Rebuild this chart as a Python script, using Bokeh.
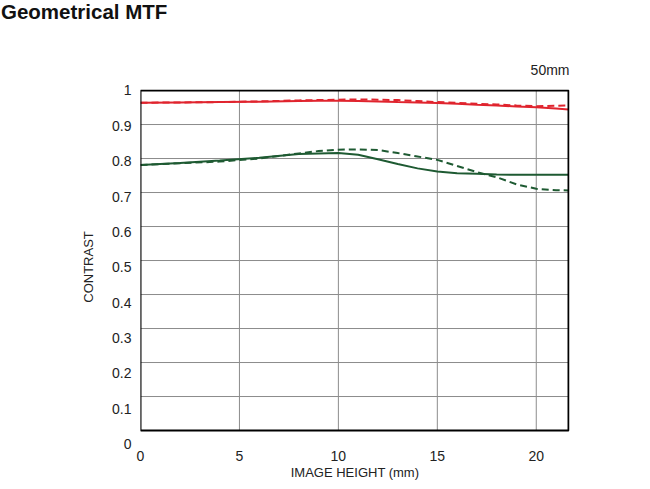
from bokeh.plotting import figure
from bokeh.models import Range1d, FixedTicker, LinearAxis, Div, BoxAnnotation
from bokeh.layouts import column
from bokeh.embed import file_html
from bokeh.resources import INLINE

# ---- data ----
image_height = [0, 2, 4, 6, 8, 9, 10, 11, 12, 13, 14, 15, 16, 17, 18, 19, 20, 21, 21.63]
red_solid = [0.964, 0.965, 0.966, 0.967, 0.969, 0.970, 0.970, 0.969, 0.968, 0.966, 0.965,
             0.963, 0.961, 0.958, 0.956, 0.953, 0.951, 0.947, 0.944]
red_dashed = [0.964, 0.965, 0.966, 0.968, 0.971, 0.972, 0.973, 0.974, 0.973, 0.972, 0.969,
              0.966, 0.964, 0.961, 0.959, 0.956, 0.954, 0.955, 0.956]
green_solid = [0.781, 0.787, 0.794, 0.802, 0.813, 0.815, 0.816, 0.811, 0.798, 0.784, 0.771,
               0.762, 0.757, 0.755, 0.753, 0.752, 0.752, 0.752, 0.752]
green_dashed = [0.781, 0.786, 0.791, 0.800, 0.815, 0.822, 0.826, 0.827, 0.825, 0.816, 0.806,
                0.796, 0.778, 0.760, 0.745, 0.724, 0.711, 0.707, 0.706]
x_ticks = [0, 5, 10, 15, 20]
y_ticks = [0, 0.1, 0.2, 0.3, 0.4, 0.5, 0.6, 0.7, 0.8, 0.9, 1.0]
x_max = 21.63
title_text = "Geometrical MTF"
focal_text = "50mm"
x_title = "IMAGE HEIGHT (mm)"
y_title = "CONTRAST"

FONT = "Liberation Sans"
RED = "#e0242e"
GREEN = "#1e5a32"
TXT = "#222222"

p = figure(width=634, height=443, output_backend="svg", toolbar_location=None,
           x_range=Range1d(0, x_max + 0.05), y_range=Range1d(-0.0411, 1.003),
           min_border_left=140, min_border_right=65, min_border_top=49,
           min_border_bottom=39, y_axis_location=None)
p.extra_y_ranges = {"lab": Range1d(-0.0017, 1.0028)}
p.outline_line_color = None
p.xgrid.visible = False
p.ygrid.visible = False

# x axis (labels only)
p.xaxis.ticker = FixedTicker(ticks=x_ticks)
p.xaxis.axis_line_color = None
p.xaxis.major_tick_line_color = None
p.xaxis.minor_tick_line_color = None
p.xaxis.major_tick_out = 0
p.xaxis.major_tick_in = 0
p.xaxis.major_label_standoff = 6
p.xaxis.major_label_text_font = FONT
p.xaxis.major_label_text_font_size = "14px"
p.xaxis.major_label_text_color = TXT
p.xaxis.axis_label = x_title
p.xaxis.axis_label_standoff = 1
p.xaxis.axis_label_text_font = FONT
p.xaxis.axis_label_text_font_size = "13px"
p.xaxis.axis_label_text_font_style = "normal"
p.xaxis.axis_label_text_color = TXT

# y axis (labels only), on its own label scale
yax = LinearAxis(y_range_name="lab", ticker=FixedTicker(ticks=y_ticks),
                 axis_line_color=None, major_tick_line_color=None,
                 minor_tick_line_color=None, major_tick_out=0, major_tick_in=0,
                 major_label_standoff=9, major_label_text_font=FONT,
                 major_label_text_font_size="14px", major_label_text_color=TXT,
                 axis_label=y_title, axis_label_standoff=13,
                 axis_label_text_font=FONT, axis_label_text_font_size="13px",
                 axis_label_text_font_style="normal", axis_label_text_color=TXT)
p.add_layout(yax, "left")

# grid lines from the tick arrays
p.segment(x0=x_ticks, x1=x_ticks, y0=[0] * len(x_ticks), y1=[1] * len(x_ticks),
          line_color="#8c8c8c", line_width=1)
p.segment(x0=[0] * len(y_ticks), x1=[x_max] * len(y_ticks), y0=y_ticks, y1=y_ticks,
          line_color="#8c8c8c", line_width=1)

p.line(image_height, red_solid, line_color=RED, line_width=2)
p.line(image_height, red_dashed, line_color=RED, line_width=2, line_dash="7 4")
p.line(image_height, green_solid, line_color=GREEN, line_width=2)
p.line(image_height, green_dashed, line_color=GREEN, line_width=2, line_dash="7 4")

p.add_layout(BoxAnnotation(left=0, right=x_max, bottom=0, top=1, fill_alpha=0,
                           line_color="black", line_width=2, line_alpha=1))

p.title.text = focal_text
p.title.align = "right"
p.title.standoff = 24
p.title.text_font = FONT
p.title.text_font_size = "14px"
p.title.text_font_style = "normal"
p.title.text_color = TXT

title = Div(text=title_text, width=634, height=30,
            styles={"font-family": FONT, "font-weight": "bold", "font-size": "20.5px",
                    "color": "#111111", "line-height": "13px",
                    "position": "relative", "left": "-4px"})

layout = column(title, p, spacing=0)
open("out.html", "w").write(file_html(layout, INLINE))
